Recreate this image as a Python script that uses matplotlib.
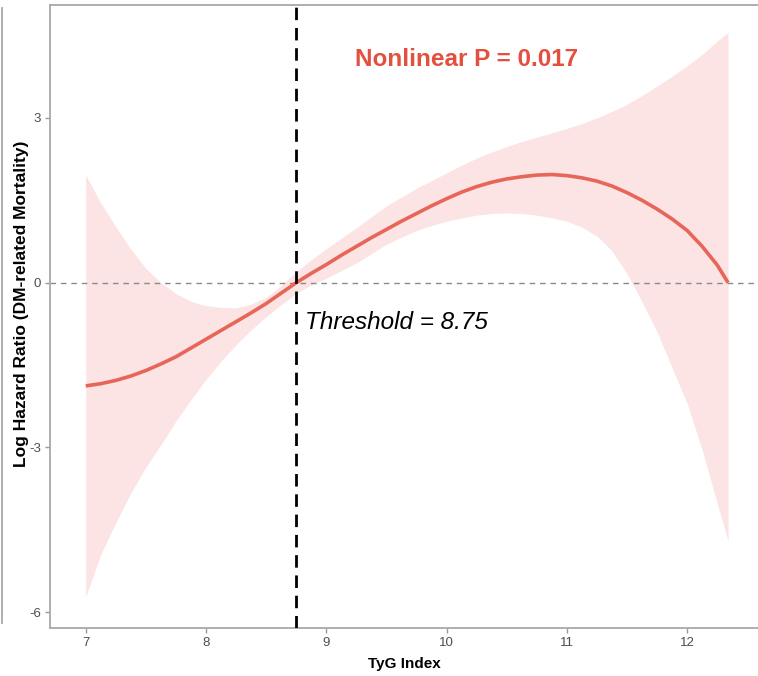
import matplotlib
matplotlib.use("Agg")
import matplotlib.pyplot as plt
from matplotlib.lines import Line2D

# ---- data ----
tyg = [7.0, 7.125, 7.25, 7.375, 7.5, 7.625, 7.75, 7.875, 8.0, 8.125, 8.25, 8.375,
       8.5, 8.625, 8.75, 8.875, 9.0, 9.125, 9.25, 9.375, 9.5, 9.625, 9.75, 9.875,
       10.0, 10.125, 10.25, 10.375, 10.5, 10.625, 10.75, 10.875, 11.0, 11.125, 11.25,
       11.375, 11.5, 11.625, 11.75, 11.875, 12.0, 12.125, 12.25, 12.34]
log_hr = [-1.88, -1.84, -1.78, -1.70, -1.60, -1.48, -1.35, -1.19, -1.03, -0.87, -0.71, -0.55,
          -0.38, -0.19, 0.0, 0.17, 0.33, 0.50, 0.66, 0.82, 0.97, 1.12, 1.26, 1.40,
          1.53, 1.65, 1.75, 1.83, 1.89, 1.93, 1.96, 1.97, 1.95, 1.91, 1.85,
          1.76, 1.64, 1.50, 1.34, 1.16, 0.95, 0.66, 0.32, 0.0]
upper = [1.96, 1.45, 1.02, 0.61, 0.26, 0.00, -0.20, -0.34, -0.42, -0.45, -0.46, -0.39,
         -0.27, -0.05, 0.20, 0.42, 0.62, 0.81, 1.00, 1.20, 1.40, 1.56, 1.72, 1.86,
         2.00, 2.14, 2.27, 2.38, 2.48, 2.57, 2.65, 2.73, 2.81, 2.90, 3.00,
         3.12, 3.25, 3.41, 3.58, 3.76, 3.95, 4.16, 4.40, 4.56]
lower = [-5.72, -4.95, -4.37, -3.83, -3.36, -2.95, -2.52, -2.13, -1.76, -1.43, -1.13, -0.86,
         -0.62, -0.40, -0.19, -0.04, 0.08, 0.22, 0.36, 0.53, 0.70, 0.83, 0.95, 1.04,
         1.12, 1.18, 1.23, 1.26, 1.27, 1.26, 1.23, 1.18, 1.12, 1.01, 0.85,
         0.58, 0.16, -0.35, -0.90, -1.55, -2.20, -3.05, -4.02, -4.70]
threshold = 8.75
x_ticks = [7, 8, 9, 10, 11, 12]
y_ticks = [-6, -3, 0, 3]
y_tick_labels = ["-6", "-3", "0", "3"]
p_text = "Nonlinear P = 0.017"
thr_text = "Threshold = 8.75"

plt.rcParams["font.family"] = ["Liberation Sans", "DejaVu Sans"]

fig = plt.figure(figsize=(7.58, 6.76), dpi=100)
ax = fig.add_axes([50/758, 48/676, 709/758, 623/676])

line_col = "#E8655A"
band_col = "#FBE4E3"

ax.fill_between(tyg, lower, upper, color=band_col, linewidth=0, zorder=1)
ax.axhline(0, color="#8a8a8a", linestyle=(0, (4, 3.5)), linewidth=1.0, zorder=2)
ax.plot(tyg, log_hr, color=line_col, linewidth=2.6, zorder=3, solid_capstyle="butt")
ax.axvline(threshold, color="black", linestyle=(0, (4.5, 2.8)), linewidth=2.0, zorder=4)

ax.text(0.587, 0.912, p_text, transform=ax.transAxes, ha="center", va="center",
        fontsize=17.5, fontweight="bold", color="#E4503F")
ax.text(8.82, -0.72, thr_text, ha="left", va="center", fontsize=17.5,
        fontstyle="italic", color="black")

ax.set_xlim(6.703, 12.597)
ax.set_ylim(-6.29, 5.058)
ax.set_xticks(x_ticks)
ax.set_yticks(y_ticks)
ax.set_yticklabels(y_tick_labels)
ax.tick_params(axis="both", colors="#9a9a9a", length=3.5, width=1.0,
               labelsize=9.5, labelcolor="#4d4d4d", pad=3)
for side, sp in ax.spines.items():
    sp.set_color("#a8a8a8")
    sp.set_linewidth(1.3)

ax.set_xlabel("TyG Index", fontsize=11, fontweight="bold", color="black", labelpad=6)
ax.set_ylabel("Log Hazard Ratio (DM-related Mortality)", fontsize=12.5,
              fontweight="bold", color="black")
ax.yaxis.set_label_coords(-0.0296, 0.521)

# stray border from neighbouring panel at the far left
fig.add_artist(Line2D([2/758, 2/758], [1 - 8/676, 1 - 623/676], transform=fig.transFigure,
                      color="#a8a8a8", linewidth=1.3))

fig.savefig("out.png", dpi=100)
